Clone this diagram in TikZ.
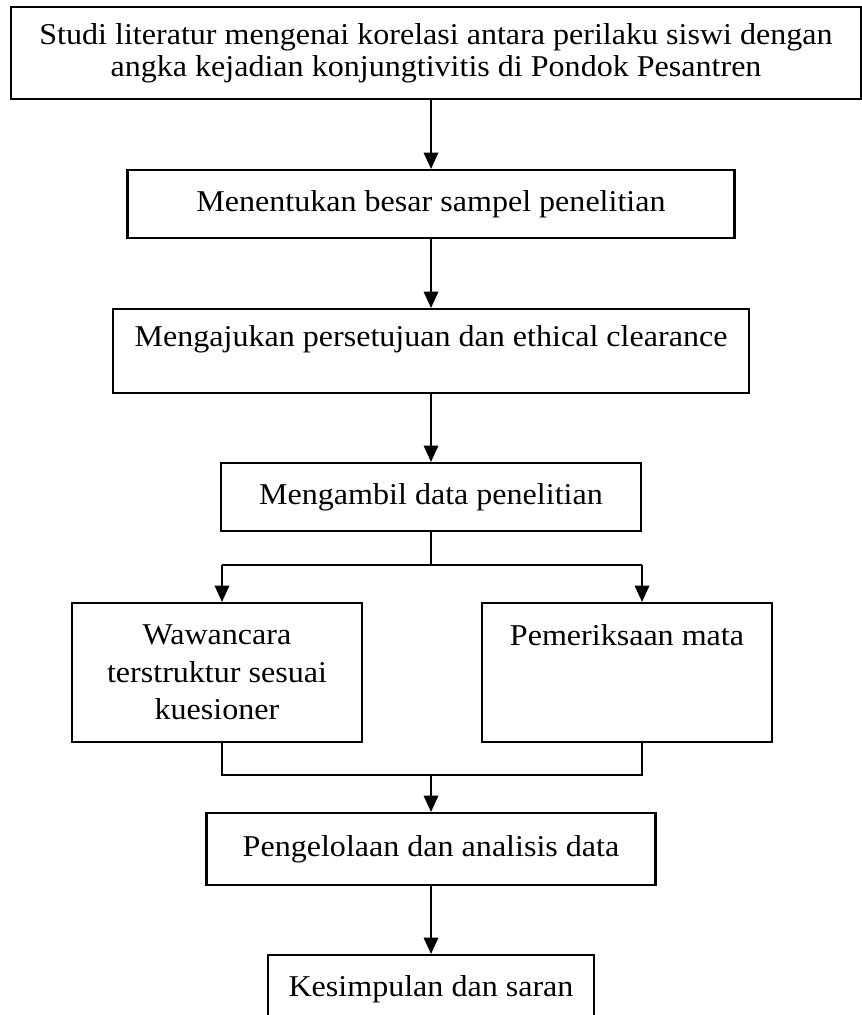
\documentclass[tikz,border=0pt]{standalone}
\usepackage{fontspec}
\setmainfont[FakeStretch=1.06]{Liberation Serif}
\usetikzlibrary{arrows.meta}
\newdimen\pix \pix=0.4133pt

\begin{document}
\begin{tikzpicture}[x=0.4133pt,y=-0.4133pt,font=\fontsize{12.5}{15.5}\selectfont,
  box/.style={draw,line width=0.85pt,align=center,inner sep=0pt},
  link/.style={line width=0.85pt},
  arr/.style={link,-{Triangle[length=6.8pt,width=6pt]}}]
  \useasboundingbox (0,0) rectangle (862,1015);

  \node[box,line width=1pt,minimum width=850\pix,minimum height=92\pix] (lit) at (436,53)
    {Studi literatur mengenai korelasi antara perilaku siswi dengan\\[-2.3pt]angka kejadian konjungtivitis di Pondok Pesantren};
  \node[box,minimum width=607\pix,minimum height=68\pix] (sampel) at (431,204) {Menentukan besar sampel penelitian};
  \node[box,minimum width=636\pix,minimum height=84\pix] (etik) at (431,351) {Mengajukan persetujuan dan ethical clearance\\[-3pt]\mbox{}};
  \node[box,minimum width=420\pix,minimum height=68\pix] (data) at (431,497) {Mengambil data penelitian};
  \node[box,minimum width=290\pix,minimum height=139\pix] (wawan) at (217,672.5) {Wawancara\\terstruktur sesuai\\kuesioner};
  \node[box,minimum width=290\pix,minimum height=139\pix] (mata) at (627,672.5) {Pemeriksaan mata\\\mbox{}\\\mbox{}};
  \node[box,minimum width=449\pix,minimum height=72\pix] (olah) at (431,849) {Pengelolaan dan analisis data};
  \node[box,minimum width=326\pix,minimum height=68\pix] (simpul) at (431,989) {Kesimpulan dan saran};

  \draw[arr] (lit.south -| sampel) -- (sampel);
  \draw[arr] (sampel) -- (etik);
  \draw[arr] (etik) -- (data);

  % split to the two kinds of data collection
  \coordinate (fork) at (431,565);
  \coordinate (lt) at (222,565);
  \coordinate (rt) at (642,565);
  \draw[link] (data) -- (fork);
  \draw[link] (lt) -- (rt);
  \draw[arr] (lt) -- (lt |- wawan.north);
  \draw[arr] (rt) -- (rt |- mata.north);

  % join again
  \coordinate (join) at (431,775);
  \draw[link] (lt |- wawan.south) |- (join) -| (rt |- mata.south);
  \draw[arr] (join) -- (olah);
  \draw[arr] (olah) -- (simpul);
\end{tikzpicture}
\end{document}
